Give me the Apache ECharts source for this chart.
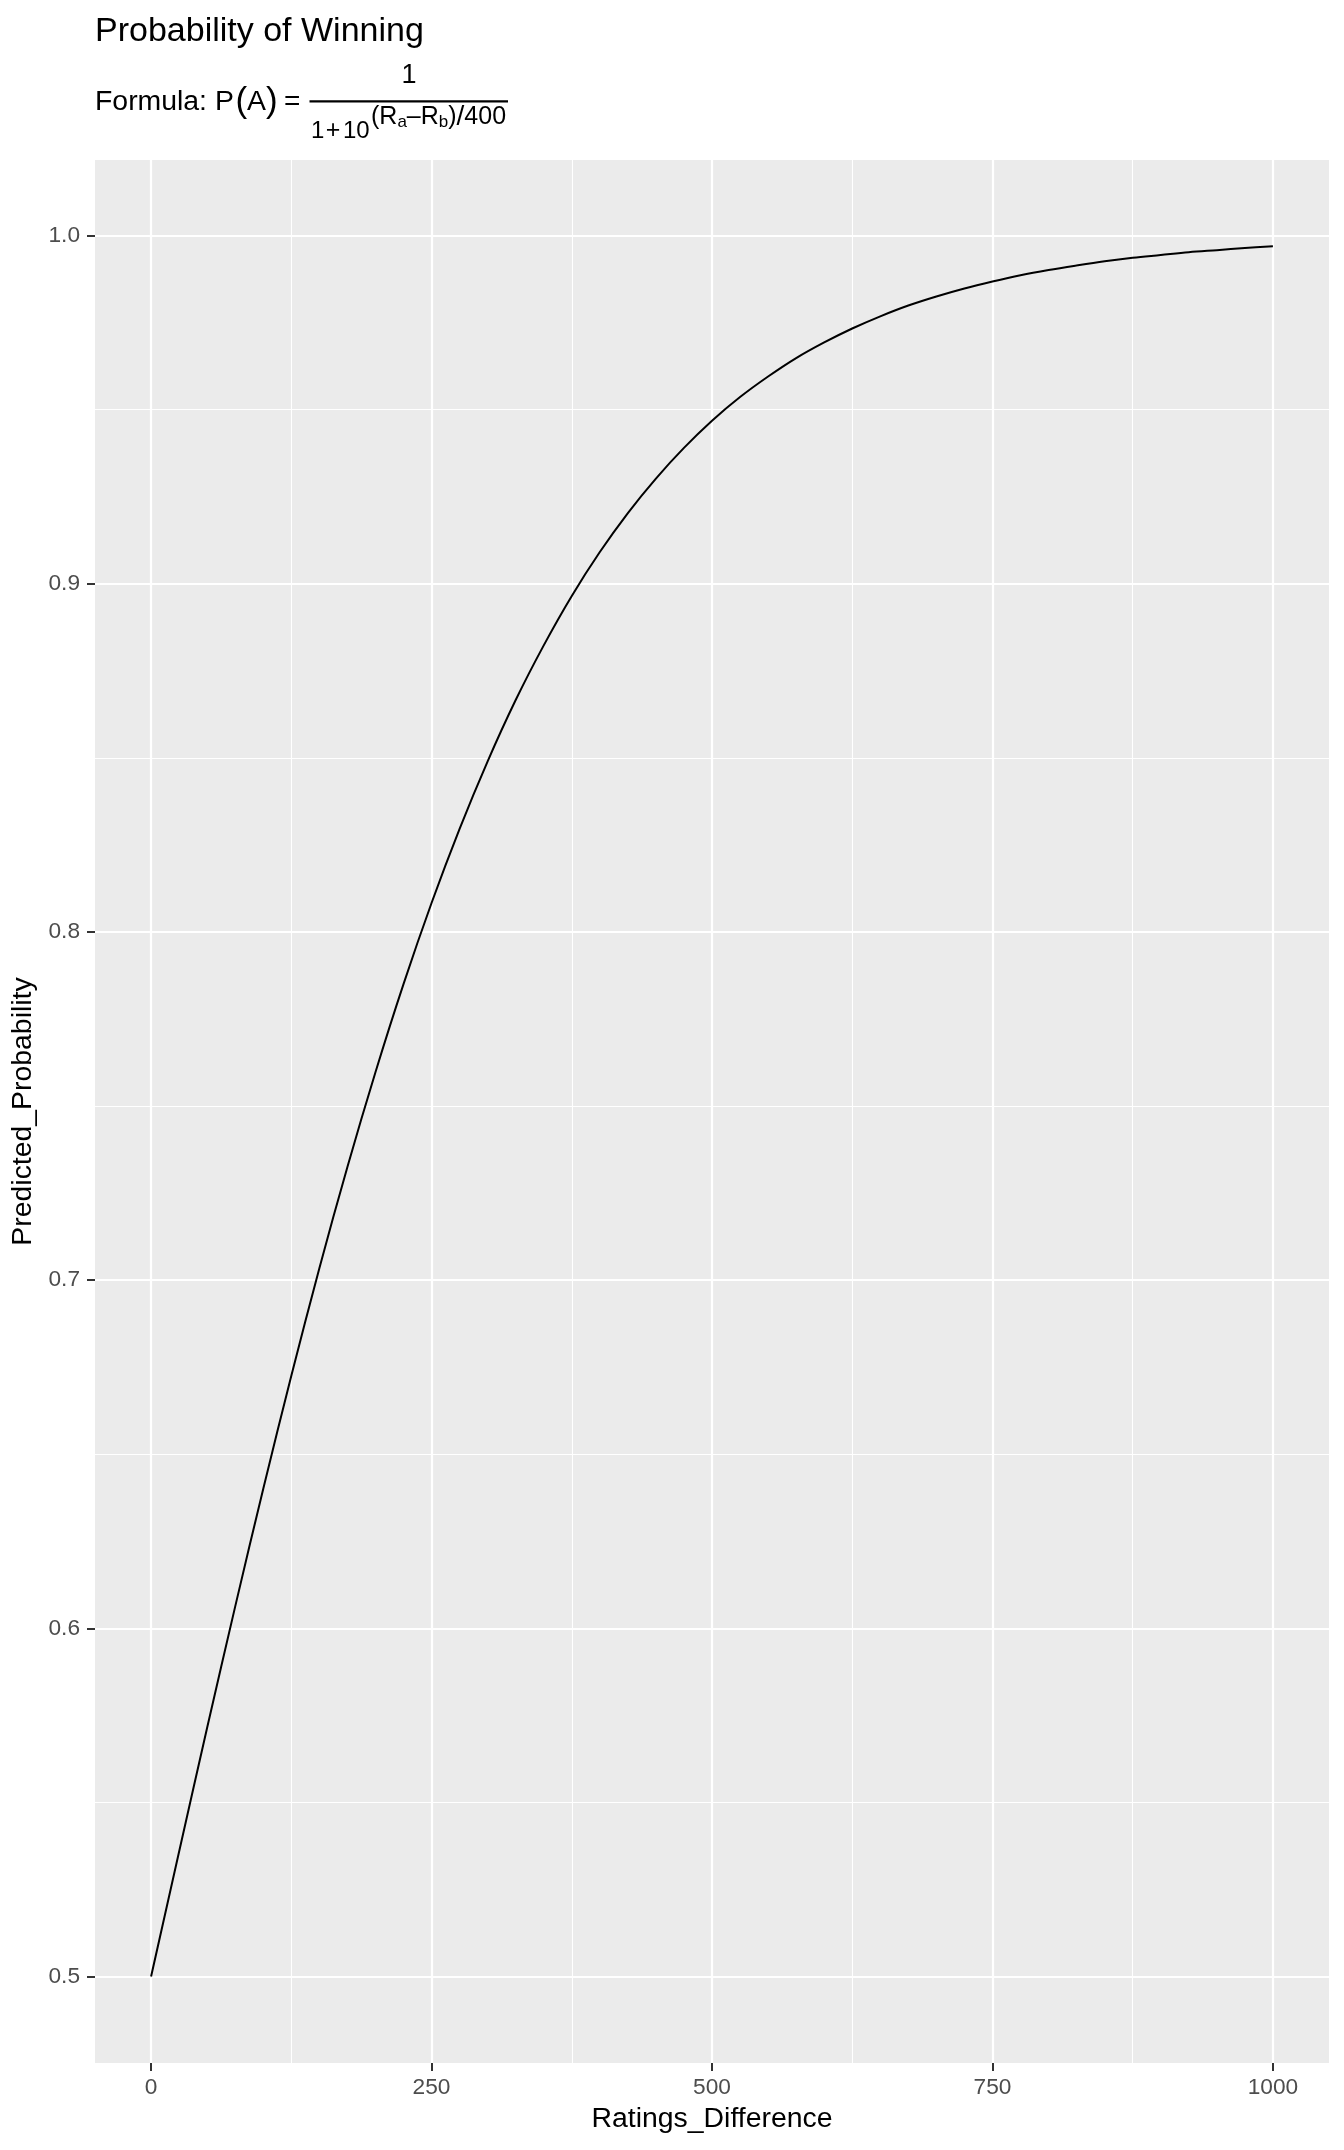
<!DOCTYPE html>
<html>
<head>
<meta charset="utf-8">
<script src="https://cdn.jsdelivr.net/npm/echarts@6/dist/echarts.min.js"></script>
<style>
  html, body { margin: 0; padding: 0; background: #ffffff; }
  #chart { width: 1344px; height: 2150px; }
</style>
</head>
<body>
<div id="chart"></div>
<script>
// ---- data ----
const ratingsDifference = [0, 25, 50, 75, 100, 125, 150, 175, 200, 225, 250, 275, 300, 325, 350, 375, 400,
  425, 450, 475, 500, 525, 550, 575, 600, 625, 650, 675, 700, 725, 750, 775, 800, 825, 850, 875, 900,
  925, 950, 975, 1000];
const predictedProbability = [0.5000, 0.5359, 0.5715, 0.6063, 0.6401, 0.6725, 0.7034, 0.7325, 0.7597,
  0.7850, 0.8083, 0.8296, 0.8490, 0.8666, 0.8823, 0.8965, 0.9091, 0.9203, 0.9302, 0.9390, 0.9468,
  0.9536, 0.9595, 0.9648, 0.9693, 0.9733, 0.9768, 0.9799, 0.9825, 0.9848, 0.9868, 0.9886, 0.9901,
  0.9914, 0.9926, 0.9936, 0.9944, 0.9952, 0.9958, 0.9964, 0.9969];
const xTickValues = [0, 250, 500, 750, 1000];
const xTickLabels = ['0', '250', '500', '750', '1000'];
const xMinorValues = [125, 375, 625, 875];
const yTickValues = [0.5, 0.6, 0.7, 0.8, 0.9, 1.0];
const yTickLabels = ['0.5', '0.6', '0.7', '0.8', '0.9', '1.0'];
const yMinorValues = [0.55, 0.65, 0.75, 0.85, 0.95];
const chartTitle = 'Probability of Winning';
const xName = 'Ratings_Difference';
const yName = 'Predicted_Probability';

const FONT = '"Liberation Sans", Arial, sans-serif';
const chart = echarts.init(document.getElementById('chart'), null, { renderer: 'canvas' });

function labelFor(values, labels) {
  return function (v) {
    for (let i = 0; i < values.length; i++) {
      if (Math.abs(values[i] - v) < 1e-9) return labels[i];
    }
    return '';
  };
}

const lineData = ratingsDifference.map((d, i) => [d, predictedProbability[i]]);

function txt(x, y, text, size, align) {
  return { type: 'text', x: x, y: y, silent: true,
    style: { text: text, font: size + 'px ' + FONT, fill: '#000000', verticalAlign: 'middle', align: align || 'left' } };
}

const option = {
  animation: false,
  backgroundColor: '#ffffff',
  grid: {
    left: 95, right: 15, top: 160, bottom: 87,
    show: true, backgroundColor: '#EBEBEB', borderWidth: 0
  },
  xAxis: [
    {
      type: 'value', min: -50, max: 1050, position: 'bottom',
      axisLine: { show: false, onZero: false },
      axisTick: { show: true, length: 8, lineStyle: { color: '#333333', width: 2 }, customValues: xTickValues },
      axisLabel: { customValues: xTickValues, formatter: labelFor(xTickValues, xTickLabels),
        color: '#4D4D4D', fontSize: 22.7, fontFamily: FONT, margin: 13 },
      splitLine: { show: true, lineStyle: { color: '#FFFFFF', width: 2.2 } },
      name: xName, nameLocation: 'middle', nameGap: 42,
      nameTextStyle: { color: '#000000', fontSize: 28.4, fontFamily: FONT }
    },
    {
      type: 'value', min: -50, max: 1050, position: 'bottom',
      axisLine: { show: false, onZero: false },
      axisTick: { show: false, customValues: xMinorValues },
      axisLabel: { show: false, customValues: xMinorValues },
      splitLine: { show: true, lineStyle: { color: '#FFFFFF', width: 1.1 } }
    }
  ],
  yAxis: [
    {
      type: 'value', min: 0.47516, max: 1.02169, position: 'left',
      axisLine: { show: false, onZero: false },
      axisTick: { show: true, length: 8, lineStyle: { color: '#333333', width: 2 }, customValues: yTickValues },
      axisLabel: { customValues: yTickValues, formatter: labelFor(yTickValues, yTickLabels),
        color: '#4D4D4D', fontSize: 22.7, fontFamily: FONT, margin: 15 },
      splitLine: { show: true, lineStyle: { color: '#FFFFFF', width: 2.2 } },
      name: yName, nameLocation: 'middle', nameRotate: 90, nameGap: 46,
      nameTextStyle: { color: '#000000', fontSize: 28.4, fontFamily: FONT }
    },
    {
      type: 'value', min: 0.47516, max: 1.02169, position: 'left',
      axisLine: { show: false, onZero: false },
      axisTick: { show: false, customValues: yMinorValues },
      axisLabel: { show: false, customValues: yMinorValues },
      splitLine: { show: true, lineStyle: { color: '#FFFFFF', width: 1.1 } }
    }
  ],
  series: [
    {
      type: 'line', xAxisIndex: 0, yAxisIndex: 0,
      data: lineData, showSymbol: false, symbol: 'none',
      smooth: 0.35,
      lineStyle: { color: '#000000', width: 2 },
      z: 10
    }
  ],
  graphic: [
    { type: 'text', left: 95, top: 15, silent: true,
      style: { text: chartTitle, font: '34px ' + FONT, fill: '#000000' } },
    txt(95, 102, 'Formula: P', 28.4),
    txt(235.5, 102.5, '(', 35),
    txt(247, 102, 'A', 28.4),
    txt(266, 102.5, ')', 35),
    txt(284, 102, '=', 28),
    txt(409, 76, '1', 27, 'center'),
    { type: 'line', silent: true,
      shape: { x1: 309.5, y1: 101.3, x2: 508, y2: 101.3 },
      style: { stroke: '#000', lineWidth: 2.2 } },
    txt(311, 131, '1', 24),
    txt(333, 131.5, '+', 25, 'center'),
    txt(343, 131, '10', 24),
    { type: 'text', x: 371, y: 117, silent: true,
      style: { text: '{s|(R}{u|a}{s|\u2013R}{u|b}{s|)}{q|/}{s|400}', verticalAlign: 'middle', align: 'left',
        rich: {
          s: { fontSize: 25, fontFamily: FONT, fill: '#000' },
          u: { fontSize: 17, fontFamily: FONT, fill: '#000', verticalAlign: 'bottom' },
          q: { fontSize: 28, fontFamily: FONT, fill: '#000' }
        } } }
  ]
};
chart.setOption(option);
</script>
</body>
</html>
